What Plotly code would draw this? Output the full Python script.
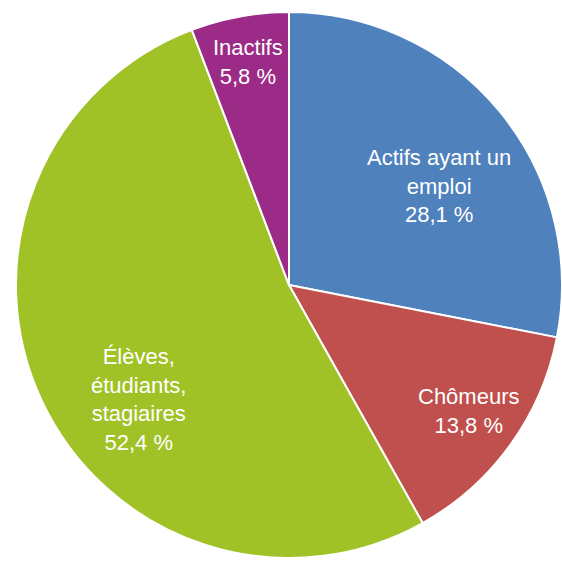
import plotly.graph_objects as go

labels = ["Actifs ayant un<br>emploi", "Chômeurs", "Élèves,<br>étudiants,<br>stagiaires", "Inactifs"]
values = [28.1, 13.8, 52.4, 5.8]
colors = ["#4F81BD", "#C0504D", "#A0C226", "#9C2A87"]

# label centre offsets from pie centre, as fractions of the radius (styling)
label_pos = [(0.55, -0.364), (0.658, 0.462), (-0.553, 0.418), (-0.149, -0.818)]

W, H = 562, 562
ML, MR, MT, MB = 16, 0, 10, 2
pw, ph = W - ML - MR, H - MT - MB
R = min(pw, ph) / 2
cx, cy = ML + pw / 2, MT + ph / 2

fig = go.Figure(go.Pie(
    labels=labels,
    values=values,
    sort=False,
    direction="clockwise",
    rotation=0,
    marker=dict(colors=colors, line=dict(color="white", width=2)),
    textinfo="none",
    hoverinfo="label+value",
    showlegend=False,
))

font = dict(family="Liberation Sans, Arial, sans-serif", size=22, color="white")
for lab, val, (fx, fy) in zip(labels, values, label_pos):
    px = cx + fx * R
    py = cy + fy * R
    txt = f"{lab}<br>{val:.1f} %".replace(".", ",")
    fig.add_annotation(
        x=(px - ML) / pw, y=1 - (py - MT) / ph,
        xref="paper", yref="paper",
        text=txt, showarrow=False,
        xanchor="center", yanchor="middle",
        font=font, align="center",
    )

fig.update_layout(
    width=W, height=H,
    margin=dict(l=ML, r=MR, t=MT, b=MB),
    paper_bgcolor="white",
)

fig.write_html("out.html")
